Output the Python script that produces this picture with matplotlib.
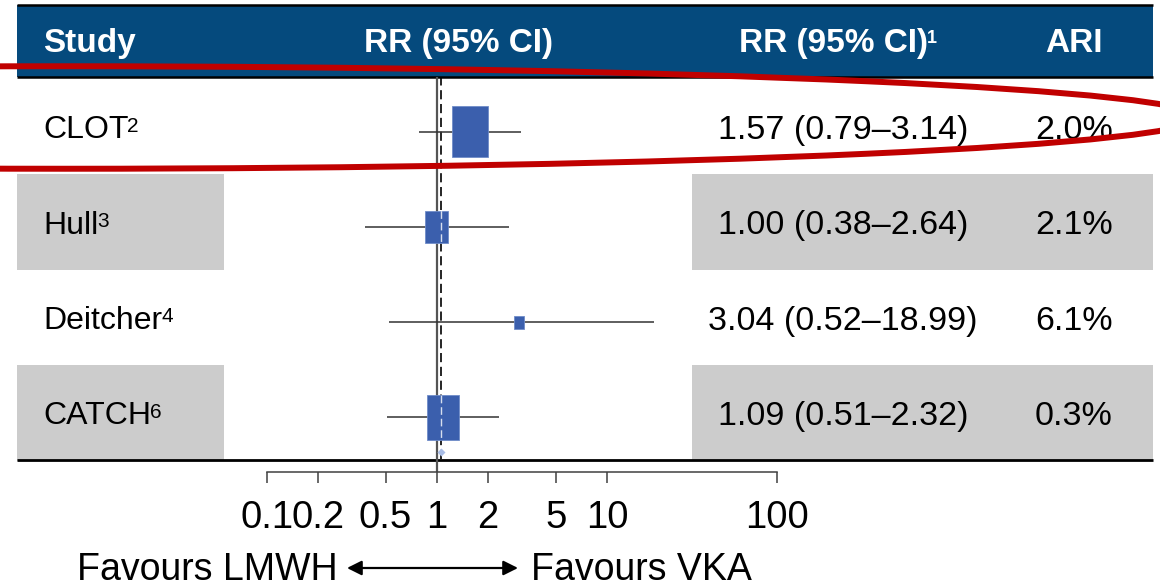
import numpy as np
import matplotlib
matplotlib.use("Agg")
import matplotlib.pyplot as plt
from matplotlib.patches import Rectangle, Ellipse
from matplotlib.ticker import NullLocator

plt.rcParams['font.family'] = ['Liberation Sans', 'DejaVu Sans']

# Data
studies = ['CLOT', 'Hull', 'Deitcher', 'CATCH']
refs = ['2', '3', '4', '6']
rr = [1.57, 1.00, 3.04, 1.09]
ci_lo = [0.79, 0.38, 0.52, 0.51]
ci_hi = [3.14, 2.64, 18.99, 2.32]
ari = [2.0, 2.1, 6.1, 0.3]
weights = [44, 18, 3, 35]
pooled = 1.06
ticks = [0.1, 0.2, 0.5, 1, 2, 5, 10, 100]
tick_labels = ['0.1', '0.2', '0.5', '1', '2', '5', '10', '100']

W, H = 1160, 587
fig = plt.figure(figsize=(W / 100, H / 100), dpi=100)

# background axes in pixel units for the table
bg = fig.add_axes([0, 0, 1, 1])
bg.set_xlim(0, W)
bg.set_ylim(H, 0)
bg.axis('off')

blue = '#054a7d'
grey = '#cccccc'
row0, row_step = 126.7, 95.4

# header band
bg.add_patch(Rectangle((17, 5), 1136, 72, facecolor=blue, edgecolor='none'))
bg.plot([17, 1153], [5, 5], color='k', lw=1.8, solid_capstyle='butt')
bg.plot([17, 1153], [77, 77], color='k', lw=1.8, solid_capstyle='butt')
bg.plot([17, 1153], [459.5, 459.5], color='k', lw=2.0, solid_capstyle='butt')

# shaded rows
for i in range(len(studies)):
    if i % 2 == 1:
        yc = row0 + row_step * i
        bg.add_patch(Rectangle((17, yc - 47.7), 207, 95.4, facecolor=grey, edgecolor='none'))
        bg.add_patch(Rectangle((692, yc - 47.7), 461, 95.4, facecolor=grey, edgecolor='none'))

renderer = fig.canvas.get_renderer()


def text_sup(x, y, main, sup, size, sup_size, rise, **kw):
    t = bg.text(x, y, main, fontsize=size, va='baseline', **kw)
    bb = t.get_window_extent(renderer)
    xr = bg.transData.inverted().transform((bb.x1, bb.y0))[0]
    bg.text(xr - 1.5, y - rise, sup, fontsize=sup_size, va='baseline', **kw)


# header text
hdr = dict(color='white', weight='bold')
bg.text(43.5, 51.7, 'Study', fontsize=24, va='baseline', **hdr)
bg.text(458, 51.7, 'RR (95% CI)', fontsize=24, va='baseline', ha='center', **hdr)
text_sup(739, 51.7, 'RR (95% CI)', '1', 24, 13, 9, **hdr)
bg.text(1074, 51.7, 'ARI', fontsize=24, va='baseline', ha='center', **hdr)

# rows
for i, name in enumerate(studies):
    yc = row0 + row_step * i
    text_sup(43.5, yc + 11.5, name, refs[i], 23, 15, 6.6, color='k')
    bg.text(843, yc + 12.2, f'{rr[i]:.2f} ({ci_lo[i]:.2f}\u2013{ci_hi[i]:.2f})',
            fontsize=24.5, ha='center', va='baseline', color='k')
    bg.text(1074, yc + 12.2, f'{ari[i]:.1f}%', fontsize=24.5, ha='center',
            va='baseline', color='k')

# favours labels
bg.text(338, 580, 'Favours LMWH', fontsize=27, ha='right', va='baseline')
bg.text(531, 580, 'Favours VKA', fontsize=27, ha='left', va='baseline')
bg.annotate('', xy=(347, 568), xytext=(518, 568),
            arrowprops=dict(arrowstyle='<|-|>', color='k', lw=1.6,
                            mutation_scale=22, shrinkA=0, shrinkB=0))

# forest plot axes
px_left, px_right, px_top, px_bot = 266.7, 777.1, 77.5, 471.7
ax = fig.add_axes([px_left / W, 1 - px_bot / H, (px_right - px_left) / W,
                   (px_bot - px_top) / H])
ax.patch.set_alpha(0)
ax.set_xscale('log')
ax.set_xlim(0.1, 100)
f0, f_step = 131.7, 95.2
ax.set_ylim((px_bot - f0) / f_step, (px_top - f0) / f_step)
px_per_dec = (px_right - px_left) / 3.0

for s in ['top', 'left', 'right']:
    ax.spines[s].set_visible(False)
ax.spines['bottom'].set_color('#404040')
ax.spines['bottom'].set_linewidth(1.1)
ax.set_yticks([])
ax.set_xticks(ticks)
ax.set_xticklabels(tick_labels)
ax.xaxis.set_minor_locator(NullLocator())
ax.tick_params(axis='x', direction='out', length=8.1, width=1.1, color='#404040',
               labelsize=27.5, pad=12)

ax.axvline(1, color='#555555', lw=1.6, zorder=1)
ax.axvline(pooled, ymin=0.032, ymax=1, color='k', lw=1.2, dashes=(5.5, 2.8), zorder=1)

ypos = np.arange(len(studies))
ax.hlines(ypos, ci_lo, ci_hi, color='#333333', lw=1.1, zorder=2)
for i in range(len(studies)):
    side = 5.43 * np.sqrt(weights[i])
    half_dec = side / 2 / px_per_dec
    half_row = side * 1.4 / 2 / f_step
    x0 = rr[i] / 10 ** half_dec
    x1 = rr[i] * 10 ** half_dec
    box = Rectangle((x0, i - half_row), x1 - x0, 2 * half_row, facecolor='#3b5fad',
                    edgecolor='#6f8cc8', lw=0.6, zorder=3)
    ax.add_patch(box)
    dl = ax.axvline(pooled, color='white', lw=1.0, dashes=(5.5, 2.8), zorder=4, alpha=0.8)
    dl.set_clip_path(box)

ax.plot([pooled], [(452 - f0) / f_step], marker='D', ms=4, color='#a9bde6',
        mec='none', zorder=4, clip_on=False)

# red hand drawn ellipse on top
top = fig.add_axes([0, 0, 1, 1], zorder=5)
top.set_xlim(0, W)
top.set_ylim(H, 0)
top.axis('off')
top.patch.set_alpha(0)
top.add_patch(Ellipse((65, 117.5), 2268, 102.5, fill=False, edgecolor='#c00000', lw=4.3))

fig.savefig('out.png', dpi=100)
